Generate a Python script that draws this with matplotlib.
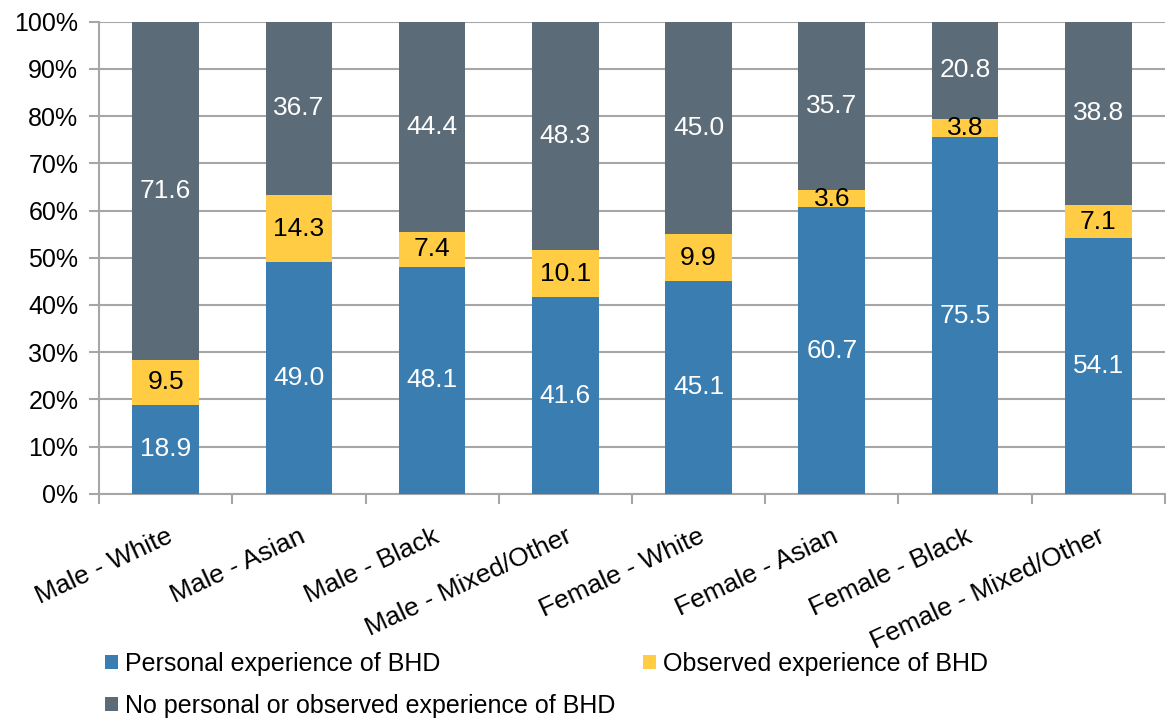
import matplotlib
matplotlib.use('Agg')
import matplotlib.pyplot as plt
import matplotlib.ticker as mticker
import numpy as np

BLUE   = "#3a7db1"
YELLOW = "#ffcc44"
SLATE  = "#5b6b78"
GRID   = "#a6a6a6"

categories = ["Male - White", "Male - Asian", "Male - Black", "Male - Mixed/Other",
              "Female - White", "Female - Asian", "Female - Black", "Female - Mixed/Other"]
personal = [18.9, 49.0, 48.1, 41.6, 45.1, 60.7, 75.5, 54.1]
observed = [9.5, 14.3, 7.4, 10.1, 9.9, 3.6, 3.8, 7.1]
neither  = [71.6, 36.7, 44.4, 48.3, 45.0, 35.7, 20.8, 38.8]
series_names = ["Personal experience of BHD", "Observed experience of BHD",
                "No personal or observed experience of BHD"]

plt.rcParams['font.family'] = ['Liberation Sans', 'DejaVu Sans']

fig = plt.figure(figsize=(11.66, 7.22), dpi=100)
ax = fig.add_axes([0.085, 0.316, 0.914, 0.654])

x = np.arange(len(categories))
w = 0.5
p = np.array(personal)
o = np.array(observed)
n = np.array(neither)
b1 = ax.bar(x, p, w, color=BLUE, label=series_names[0], zorder=3)
b2 = ax.bar(x, o, w, bottom=p, color=YELLOW, label=series_names[1], zorder=3)
b3 = ax.bar(x, n, w, bottom=p + o, color=SLATE, label=series_names[2], zorder=3)

for i in range(len(categories)):
    ax.text(x[i], p[i] / 2, f"{p[i]:.1f}", ha='center', va='center', color='white', fontsize=19, zorder=4)
    ax.text(x[i], p[i] + o[i] / 2, f"{o[i]:.1f}", ha='center', va='center', color='black', fontsize=19, zorder=4)
    ax.text(x[i], p[i] + o[i] + n[i] / 2, f"{n[i]:.1f}", ha='center', va='center', color='white', fontsize=19, zorder=4)

ax.set_xlim(-0.5, len(categories) - 0.5)
ax.set_ylim(0, 100)
ax.set_yticks(range(0, 101, 10))
ax.yaxis.set_major_formatter(mticker.FuncFormatter(lambda v, _: f"{v:.0f}%"))
ax.set_xticks(x)
ax.set_xticklabels(categories, rotation=25, ha='right', rotation_mode='anchor', fontsize=19)
ax.set_xticks(np.arange(-0.5, len(categories), 1), minor=True)
ax.tick_params(axis='x', which='major', length=0, pad=22)
ax.tick_params(axis='x', which='minor', length=7, width=1.5, color=GRID)
ax.tick_params(axis='y', length=7, width=1.5, color=GRID, labelsize=18, pad=8)
ax.grid(axis='y', color=GRID, linewidth=1.5, zorder=0)
for side in ['top', 'right']:
    ax.spines[side].set_visible(False)
for side in ['left', 'bottom']:
    ax.spines[side].set_color(GRID)
    ax.spines[side].set_linewidth(1.5)

fig.legend(handles=[b1, b3, b2], labels=[series_names[0], series_names[2], series_names[1]],
           loc='upper left', bbox_to_anchor=(0.071, 0.128), ncol=2, frameon=False,
           fontsize=18, handlelength=0.5, handleheight=0.5, handletextpad=0.3,
           columnspacing=1.1, labelspacing=0.7)

plt.savefig("out.png", dpi=100, facecolor='white')
plt.close()
